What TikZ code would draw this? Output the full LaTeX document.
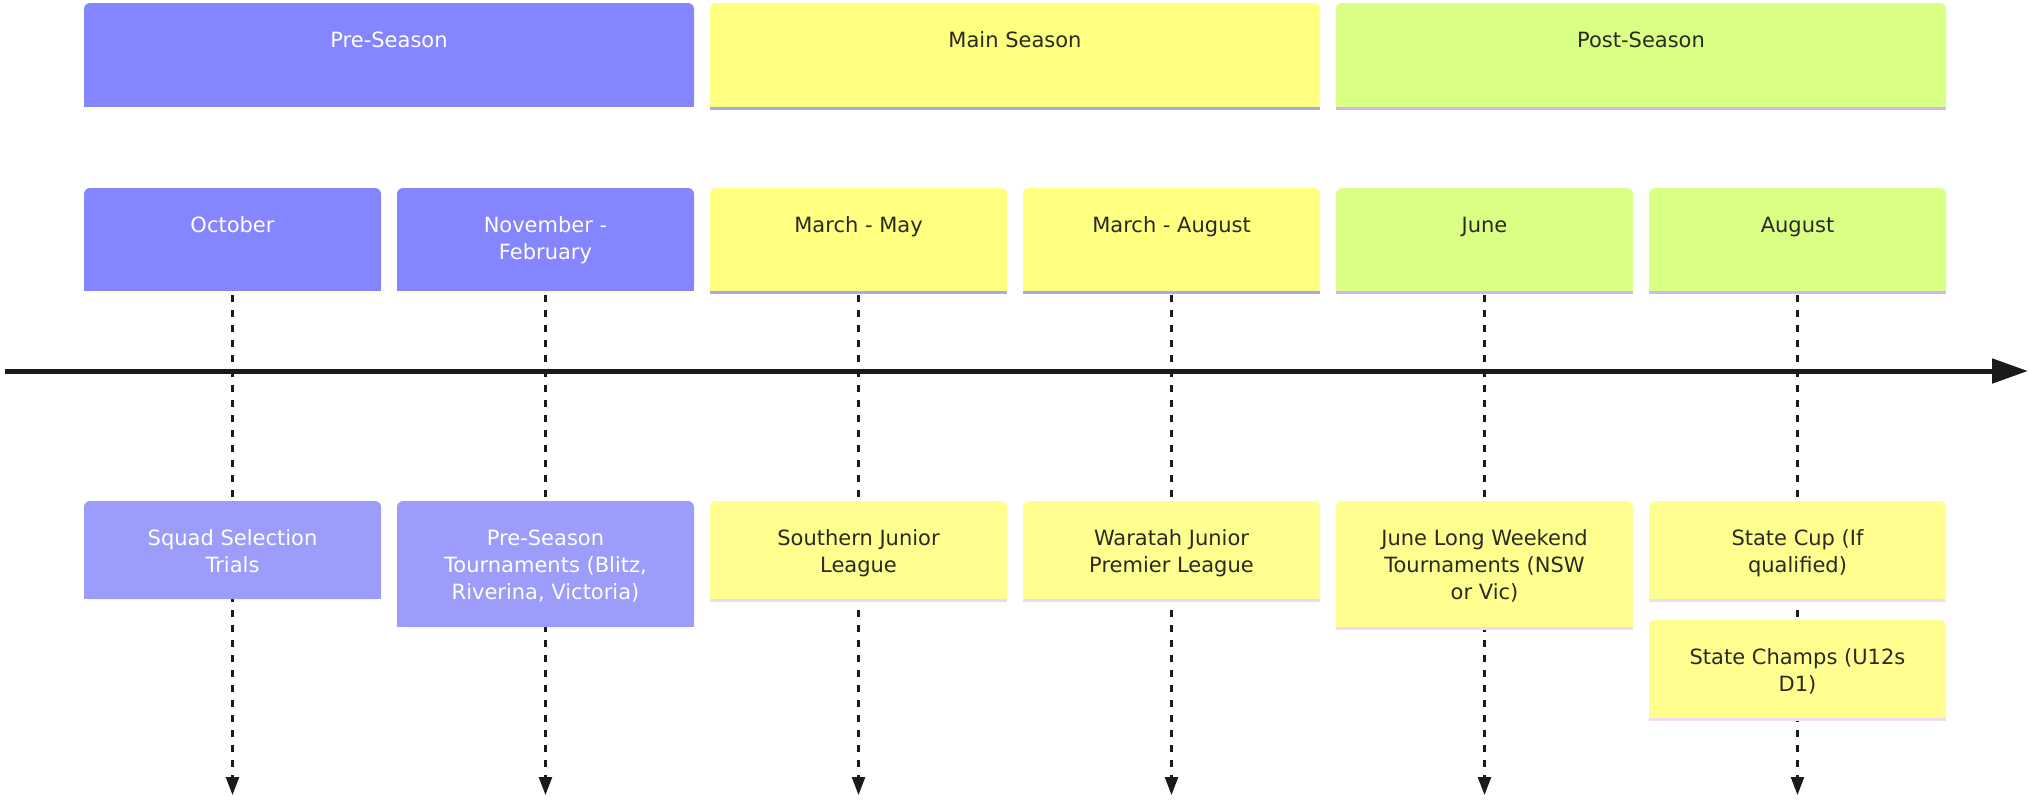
\documentclass[tikz,border=0pt]{standalone}
\usepackage{fontspec}
\setmainfont{DejaVu Sans}
\usetikzlibrary{arrows.meta}
\pgfdeclarelayer{lines}
\pgfdeclarelayer{fills}
\pgfsetlayers{lines,fills,main}
\definecolor{purT}{HTML}{8585FF}
\definecolor{purE}{HTML}{9C9CFA}
\definecolor{yelT}{HTML}{FFFF80}
\definecolor{yelE}{HTML}{FFFF90}
\definecolor{grnT}{HTML}{D9FF85}
\definecolor{strY}{HTML}{FFFFD8}
\definecolor{strB}{HTML}{A8A8F0}
\definecolor{strL}{HTML}{D0B8F8}
\definecolor{strE}{HTML}{E4DCF4}
\definecolor{strP}{HTML}{F0DCF4}
\definecolor{txtD}{HTML}{2A2A22}
\definecolor{lineK}{HTML}{1A1A1A}

\newcommand\cellbox[3]{\parbox[c][#2][t]{#1}{\centering\rule{0pt}{22pt}#3}}
\newcommand\paintbox[3]{%
  \begin{pgfonlayer}{fills}
    \fill[#2,rounded corners=3pt] (#1.south west) rectangle (#1.north east);
    \fill[#2] (#1.south west) rectangle (#1.east);
    \draw[draw=#3,line width=1.5pt] ([yshift=-0.75pt]#1.south west) -- ([yshift=-0.75pt]#1.south east);
  \end{pgfonlayer}}

\tikzset{
  cell/.style={inner sep=0pt, outer sep=0pt, font=\fontsize{10.5pt}{13.5pt}\selectfont},
  light/.style={cell, text=white},
  dark/.style={cell, text=txtD},
  timeline/.style={draw=lineK, line width=1.2pt, dash pattern=on 3.5pt off 4pt,
    -{Triangle[length=9pt,width=6.5pt]}},
  axis/.style={draw=lineK, line width=2.5pt, -{Triangle[length=18pt,width=12pt]}},
}

\begin{document}
\begin{tikzpicture}[x=0.5pt,y=-0.5pt]
\useasboundingbox (0,0) rectangle (2029,799);

% season headers
\node[light] (pre)  at (389,55)  {\cellbox{305pt}{52pt}{Pre-Season}};
\node[dark]  (main) at (1015,55) {\cellbox{305pt}{52pt}{Main Season}};
\node[dark]  (post) at (1641,55) {\cellbox{305pt}{52pt}{Post-Season}};

% periods
\node[light] (oct) at (232.5,239.5)  {\cellbox{148.5pt}{51.5pt}{October}};
\node[light] (nov) at (545.5,239.5)  {\cellbox{148.5pt}{51.5pt}{November -\\February}};
\node[dark]  (mm)  at (858.5,239.5)  {\cellbox{148.5pt}{51.5pt}{March - May}};
\node[dark]  (ma)  at (1171.5,239.5) {\cellbox{148.5pt}{51.5pt}{March - August}};
\node[dark]  (jun) at (1484.5,239.5) {\cellbox{148.5pt}{51.5pt}{June}};
\node[dark]  (aug) at (1797.5,239.5) {\cellbox{148.5pt}{51.5pt}{August}};

% events
\node[light] (sq)  at (232.5,550)  {\cellbox{148.5pt}{49pt}{Squad Selection\\Trials}};
\node[light] (pt)  at (545.5,564)  {\cellbox{148.5pt}{63pt}{Pre-Season\\Tournaments (Blitz,\\Riverina, Victoria)}};
\node[dark]  (sj)  at (858.5,550)  {\cellbox{148.5pt}{49pt}{Southern Junior\\League}};
\node[dark]  (wj)  at (1171.5,550) {\cellbox{148.5pt}{49pt}{Waratah Junior\\Premier League}};
\node[dark]  (jl)  at (1484.5,564) {\cellbox{148.5pt}{63pt}{June Long Weekend\\Tournaments (NSW\\or Vic)}};
\node[dark]  (sc)  at (1797.5,550) {\cellbox{148.5pt}{49pt}{State Cup (If\\qualified)}};
\node[dark]  (sch) at (1797.5,669) {\cellbox{148.5pt}{49pt}{State Champs (U12s\\D1)}};

\paintbox{pre}{purT}{strY}
\paintbox{main}{yelT}{strB}
\paintbox{post}{grnT}{strL}
\paintbox{oct}{purT}{strY}
\paintbox{nov}{purT}{strY}
\paintbox{mm}{yelT}{strB}
\paintbox{ma}{yelT}{strB}
\paintbox{jun}{grnT}{strL}
\paintbox{aug}{grnT}{strL}
\paintbox{sq}{purE}{none}
\paintbox{pt}{purE}{none}
\paintbox{sj}{yelE}{strE}
\paintbox{wj}{yelE}{strE}
\paintbox{jl}{yelE}{strP}
\paintbox{sc}{yelE}{strP}
\paintbox{sch}{yelE}{strP}

% connector ends
\coordinate (eOct) at (232.5,795);
\coordinate (eNov) at (545.5,795);
\coordinate (eMM)  at (858.5,795);
\coordinate (eMA)  at (1171.5,795);
\coordinate (eJun) at (1484.5,795);
\coordinate (eAug) at (1797.5,795);
\coordinate (axL) at (5,371);
\coordinate (axR) at (2028,371);

\begin{pgfonlayer}{lines}
  \draw[timeline] ([yshift=-2pt]oct.south) -- (eOct);
  \draw[timeline] ([yshift=-2pt]nov.south) -- (eNov);
  \draw[timeline] ([yshift=-2pt]mm.south)  -- (eMM);
  \draw[timeline] ([yshift=-2pt]ma.south)  -- (eMA);
  \draw[timeline] ([yshift=-2pt]jun.south) -- (eJun);
  \draw[timeline] ([yshift=-2pt]aug.south) -- (eAug);
\end{pgfonlayer}
\draw[axis] (axL) -- (axR);
\end{tikzpicture}
\end{document}
